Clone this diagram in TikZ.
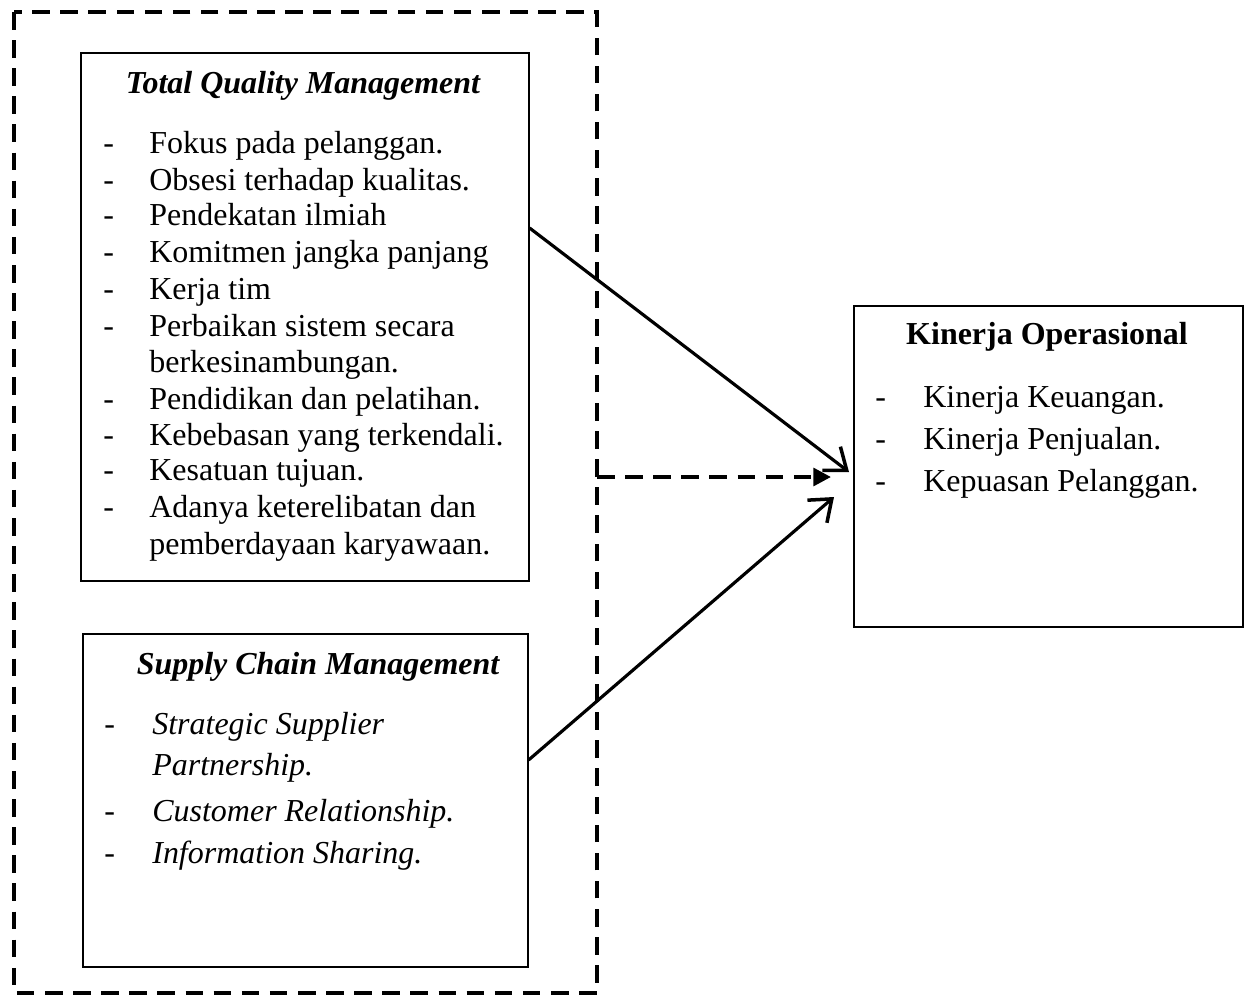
\documentclass[tikz,border=0pt]{standalone}
\usepackage{fontspec}
\setmainfont{Liberation Serif}
\usetikzlibrary{arrows.meta}
\begin{document}
\begin{tikzpicture}[x=0.02cm,y=-0.02cm,
  box/.style={draw,line width=0.9pt},
  txt/.style={anchor=base west,inner sep=0pt,font=\fontsize{18.2}{21}\selectfont},
  dsh/.style={anchor=base west,inner sep=0pt,font=\fontsize{18.2}{21}\selectfont},
  ttl/.style={anchor=base,inner sep=0pt,font=\fontsize{18.2}{21}\selectfont},
  conn/.style={line width=1.8pt,-{Straight Barb[length=11pt,width=17pt,line width=2pt]}},
  dconn/.style={line width=2.3pt,dash pattern=on 10pt off 6pt,-{Triangle[length=10pt,width=10pt]}}]
\useasboundingbox (0,0) rectangle (1247,1001);
% outer dashed frame
\draw[line width=2.3pt,dash pattern=on 10pt off 6pt] (14,12) rectangle (597,993);
% boxes
\node[box,minimum width=448*0.02cm,minimum height=528*0.02cm,anchor=north west,inner sep=0] (tqm) at (80,52) {};
\node[box,minimum width=445*0.02cm,minimum height=333*0.02cm,anchor=north west,inner sep=0] (scm) at (82,633) {};
\node[box,minimum width=389*0.02cm,minimum height=321*0.02cm,anchor=north west,inner sep=0] (ko) at (853,305) {};
% TQM text
\node[ttl,font=\fontsize{18.2}{21}\selectfont\bfseries\itshape] (tqmt) at (303,93) {Total Quality Management};
\foreach \y/\t [count=\i] in {153/Fokus pada pelanggan.,190/Obsesi terhadap kualitas.,225/Pendekatan ilmiah,262/Komitmen jangka panjang,299/Kerja tim,336/Perbaikan sistem secara,372/berkesinambungan.,409/Pendidikan dan pelatihan.,445/Kebebasan yang terkendali.,480/Kesatuan tujuan.,517/Adanya keterelibatan dan,554/pemberdayaan karyawaan.}{
  \node[txt] (tq\i) at (149,\y) {\t};
}
\foreach \y/\i in {153/1,190/2,225/3,262/4,299/5,336/6,409/8,445/9,480/10,517/11}{
  \node[dsh] (tqd\i) at (103,\y) {-};
}
% SCM text
\node[ttl,font=\fontsize{18.2}{21}\selectfont\bfseries\itshape] (scmt) at (318,674) {Supply Chain Management};
\node[txt,font=\fontsize{18.2}{21}\selectfont\itshape] (sc1) at (152,734) {Strategic Supplier};
\node[txt,font=\fontsize{18.2}{21}\selectfont\itshape] (sc2) at (152,775) {Partnership.};
\node[txt,font=\fontsize{18.2}{21}\selectfont\itshape] (sc3) at (152,821) {Customer Relationship.};
\node[txt,font=\fontsize{18.2}{21}\selectfont\itshape] (sc4) at (152,863) {Information Sharing.};
\node[dsh] (scd1) at (104,734) {-};
\node[dsh] (scd3) at (104,821) {-};
\node[dsh] (scd4) at (104,863) {-};
% Kinerja text
\node[ttl,font=\fontsize{18.2}{21}\selectfont\bfseries] (kot) at (1047,344) {Kinerja Operasional};
\node[txt] (ko1) at (923,407) {Kinerja Keuangan.};
\node[txt] (ko2) at (923,449) {Kinerja Penjualan.};
\node[txt] (ko3) at (923,491) {Kepuasan Pelanggan.};
\node[dsh] (kod1) at (875,407) {-};
\node[dsh] (kod2) at (875,449) {-};
\node[dsh] (kod3) at (875,491) {-};
% connectors
\coordinate (a1s) at (tqm.north east |- 0,228);
\coordinate (a1e) at (849,472);
\coordinate (a2s) at (scm.north east |- 0,760);
\coordinate (a2e) at (834,497);
\coordinate (dsS) at (597,477);
\coordinate (dsE) at (831,477);
\draw[conn] (a1s) -- (a1e);
\draw[conn] (a2s) -- (a2e);
\draw[dconn] (dsS) -- (dsE);
\end{tikzpicture}
\end{document}
